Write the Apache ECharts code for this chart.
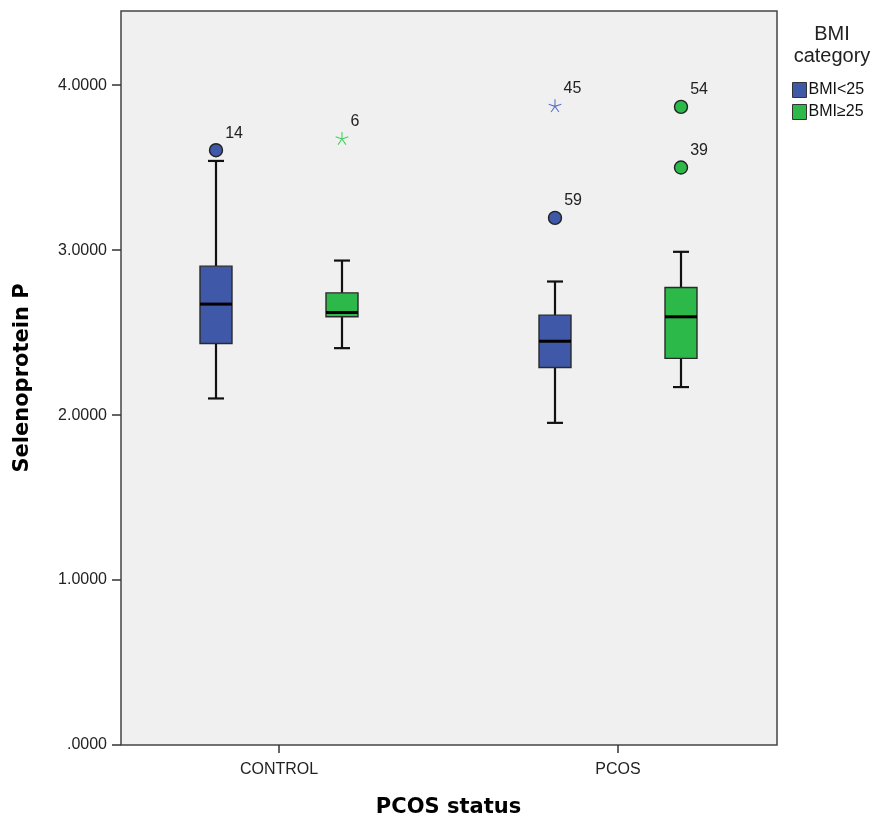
<!DOCTYPE html>
<html>
<head>
<meta charset="utf-8">
<script src="https://cdn.jsdelivr.net/npm/echarts@6/dist/echarts.min.js"></script>
<style>
  html, body { margin: 0; padding: 0; background: #ffffff; }
  #chart { width: 875px; height: 824px; }
</style>
</head>
<body>
<div id="chart"></div>
<script>
// PCOS status groups on the x axis
const groups = ['CONTROL', 'PCOS'];
const seriesNames = ['BMI<25', 'BMI\u226525'];

// Box summaries per group: [min, Q1, median, Q3, max]
const boxLow  = [[2.101, 2.434, 2.673, 2.903, 3.541], [1.953, 2.289, 2.448, 2.606, 2.810]];
const boxHigh = [[2.406, 2.596, 2.622, 2.741, 2.937], [2.170, 2.344, 2.596, 2.774, 2.990]];

// Outlying cases: [group index, value, case id, extreme]
const outLow  = [[0, 3.606, '14', false], [1, 3.875, '45', true], [1, 3.196, '59', false]];
const outHigh = [[0, 3.677, '6', true], [1, 3.869, '54', false], [1, 3.501, '39', false]];

const yTicks = [0, 1, 2, 3, 4];
const yMax = 4.45;

const colors = ['#3f58a8', '#2db84a'];
const starColors = ['#5a73c9', '#3fcf5c'];
const offsets = [-63, 63];

// five-armed asterisk used for extreme values
function asteriskPath() {
  let d = '';
  const len = 10, hw = 0.8;
  for (let k = 0; k < 5; k++) {
    const a = -Math.PI / 2 + k * 2 * Math.PI / 5;
    const ca = Math.cos(a), sa = Math.sin(a);
    const px = -sa * hw, py = ca * hw;
    const pts = [[px, py], [px + ca * len, py + sa * len], [-px + ca * len, -py + sa * len], [-px, -py]];
    d += 'M' + pts.map(p => (p[0] + 12).toFixed(2) + ' ' + (p[1] + 12).toFixed(2)).join('L') + 'Z';
  }
  return 'path://' + d;
}
const ASTERISK = asteriskPath();

function boxRenderer(offset, color) {
  return function (params, api) {
    const xi = api.value(0);
    const c = api.coord([xi, api.value(1)]);
    const cx = c[0] + offset;
    const yMin = c[1];
    const yQ1 = api.coord([xi, api.value(2)])[1];
    const yMed = api.coord([xi, api.value(3)])[1];
    const yQ3 = api.coord([xi, api.value(4)])[1];
    const yMx = api.coord([xi, api.value(5)])[1];
    const hw = 16, cap = 8;
    const ln = { stroke: '#111', lineWidth: 2.2 };
    return {
      type: 'group',
      children: [
        { type: 'line', shape: { x1: cx, y1: yMin, x2: cx, y2: yQ1 }, style: ln },
        { type: 'line', shape: { x1: cx, y1: yMx, x2: cx, y2: yQ3 }, style: ln },
        { type: 'line', shape: { x1: cx - cap, y1: yMin, x2: cx + cap, y2: yMin }, style: ln },
        { type: 'line', shape: { x1: cx - cap, y1: yMx, x2: cx + cap, y2: yMx }, style: ln },
        { type: 'rect', shape: { x: cx - hw, y: yQ3, width: hw * 2, height: yQ1 - yQ3 },
          style: { fill: color, stroke: '#2a2a2a', lineWidth: 1.4 } },
        { type: 'line', shape: { x1: cx - hw, y1: yMed, x2: cx + hw, y2: yMed },
          style: { stroke: '#000', lineWidth: 3 } }
      ]
    };
  };
}

function boxData(rows) {
  return rows.map((r, i) => [i].concat(r));
}

function outlierData(rows, k) {
  return rows.map(r => ({
    name: r[2],
    value: [r[0], r[1]],
    symbol: r[3] ? ASTERISK : 'circle',
    symbolSize: 13,
    itemStyle: r[3]
      ? { color: starColors[k], borderWidth: 0, opacity: 1 }
      : { color: colors[k], borderColor: '#222', borderWidth: 1.4, opacity: 1 }
  }));
}

const sansFont = 'Arial, "Liberation Sans", sans-serif';
const axisFont = { fontFamily: sansFont, fontSize: 16, color: '#222' };
const titleFont = { fontFamily: '"DejaVu Sans", Verdana, sans-serif', fontWeight: 'bold', fontSize: 21, color: '#000' };

const chart = echarts.init(document.getElementById('chart'), null, { renderer: 'canvas' });

chart.setOption({
  animation: false,
  backgroundColor: '#ffffff',
  grid: [
    { left: 121, top: 11, right: 98, bottom: 79, show: true, backgroundColor: '#f0f0f0',
      borderColor: '#444', borderWidth: 1.5, containLabel: false, outerBoundsMode: 'none' },
    { left: 109.5, top: 11, width: 678, bottom: 79, show: false, containLabel: false, outerBoundsMode: 'none' }
  ],
  xAxis: [
    { gridIndex: 0, type: 'value', min: 0, max: 1, show: false },
    {
      gridIndex: 1, type: 'category', data: groups,
      axisLine: { show: false },
      axisTick: { show: true, alignWithLabel: true, length: 8, lineStyle: { color: '#333', width: 1.5 } },
      axisLabel: Object.assign({ margin: 17 }, axisFont),
      splitLine: { show: false },
      name: 'PCOS status', nameLocation: 'middle', nameGap: 52,
      nameTextStyle: titleFont
    }
  ],
  yAxis: [
    {
      gridIndex: 0, type: 'value', min: 0, max: yMax, interval: 1,
      axisLine: { show: false },
      axisTick: { show: true, length: 9, customValues: yTicks, lineStyle: { color: '#333', width: 1.5 } },
      axisLabel: Object.assign({
        margin: 14, customValues: yTicks,
        formatter: v => v.toFixed(4).replace(/^0\./, '.')
      }, axisFont),
      splitLine: { show: false },
      name: 'Selenoprotein P', nameLocation: 'middle', nameGap: 88, nameRotate: 90,
      nameTextStyle: titleFont
    },
    { gridIndex: 1, type: 'value', min: 0, max: yMax, show: false }
  ],
  legend: {
    orient: 'vertical', left: 792, top: 82, padding: 0,
    itemWidth: 14, itemHeight: 15, itemGap: 6,
    data: seriesNames.map((n, k) => ({ name: n, icon: 'rect',
      itemStyle: { color: colors[k], borderColor: '#333', borderWidth: 1, opacity: 1 } })),
    textStyle: { fontFamily: sansFont, fontSize: 16, color: '#111', padding: [0, 0, 0, -3] }
  },
  graphic: [
    { type: 'text', x: 832, y: 23,
      style: { text: 'BMI\ncategory', align: 'center', verticalAlign: 'top', lineHeight: 22,
        font: '20px Arial, "Liberation Sans", sans-serif', fill: '#222' } }
  ],
  series: [
    { name: seriesNames[0], type: 'custom', xAxisIndex: 1, yAxisIndex: 1,
      itemStyle: { color: colors[0] }, renderItem: boxRenderer(offsets[0], colors[0]),
      encode: { x: 0, y: [1, 2, 3, 4, 5] }, data: boxData(boxLow), z: 3 },
    { name: seriesNames[1], type: 'custom', xAxisIndex: 1, yAxisIndex: 1,
      itemStyle: { color: colors[1] }, renderItem: boxRenderer(offsets[1], colors[1]),
      encode: { x: 0, y: [1, 2, 3, 4, 5] }, data: boxData(boxHigh), z: 3 },
    { name: seriesNames[0], type: 'scatter', xAxisIndex: 1, yAxisIndex: 1,
      symbolOffset: [offsets[0], 0], data: outlierData(outLow, 0), z: 4,
      label: { show: true, formatter: '{b}', position: 'right', distance: 2, offset: [0, -17],
        fontFamily: sansFont, fontSize: 16, color: '#222' } },
    { name: seriesNames[1], type: 'scatter', xAxisIndex: 1, yAxisIndex: 1,
      symbolOffset: [offsets[1], 0], data: outlierData(outHigh, 1), z: 4,
      label: { show: true, formatter: '{b}', position: 'right', distance: 2, offset: [0, -17],
        fontFamily: sansFont, fontSize: 16, color: '#222' } }
  ]
});
</script>
</body>
</html>
